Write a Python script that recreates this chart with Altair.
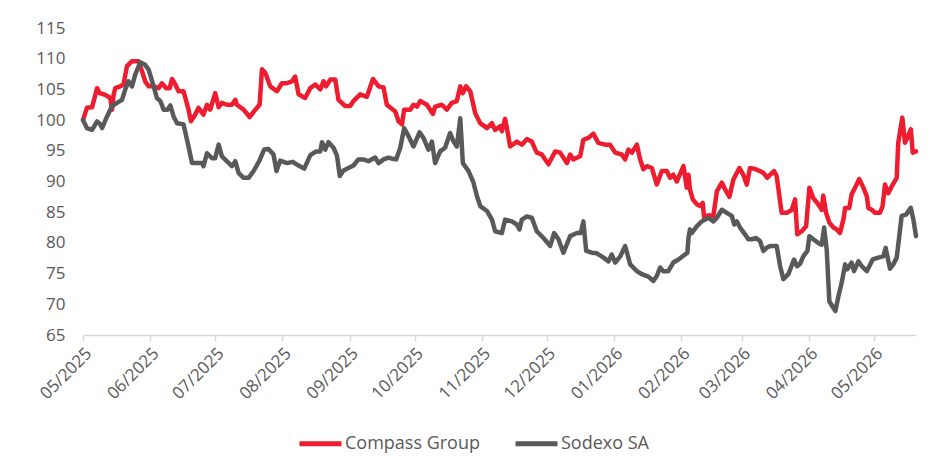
import altair as alt
import pandas as pd

start_date = "2025-05-01"
series_names = ["Compass Group", "Sodexo SA"]
series_colors = ["#ED1C2E", "#58595B"]
y_ticks = [65, 70, 75, 80, 85, 90, 95, 100, 105, 110, 115]

# days since 2025-05-01 and indexed values
compass_days = [
    0, 1.8, 4.2, 6.5, 7.7, 10.3, 12.6, 13.4, 14.1, 14.9,
    17.2, 18.7, 20.3, 22.6, 25.6, 27.2, 28.7, 30.3, 32.6, 34.9,
    36.4, 38.4, 40.0, 41.1, 42.6, 44.1, 46.4, 48.7, 49.8, 51.8,
    53.3, 55.6, 57.2, 58.7, 61.0, 62.6, 64.1, 66.4, 68.7, 70.3,
    71.0, 74.1, 76.9, 79.5, 81.5, 82.6, 84.1, 86.4, 89.5, 91.8,
    94.1, 96.4, 97.9, 99.5, 102.5, 104.9, 107.2, 109.5, 111.0, 112.2,
    114.1, 116.4, 117.9, 121.0, 123.3, 124.8, 127.9, 131.0, 133.8, 136.4,
    138.7, 140.2, 144.1, 145.6, 147.2, 148.2, 151.0, 152.5, 154.1, 155.6,
    158.7, 160.2, 161.5, 162.5, 165.6, 167.9, 170.2, 172.5, 174.1, 175.3,
    176.8, 178.7, 181.0, 183.3, 186.4, 188.7, 190.2, 192.5, 193.3, 194.8,
    196.3, 197.1, 200.2, 202.5, 204.8, 207.1, 209.4, 211.7, 214.8, 217.9,
    220.2, 223.3, 224.8, 226.3, 229.4, 230.9, 233.2, 235.5, 237.8, 240.9,
    243.2, 245.6, 248.6, 250.2, 251.7, 253.3, 255.6, 257.1, 258.6, 260.2,
    262.5, 264.8, 267.1, 269.4, 270.9, 272.4, 274.0, 277.1, 278.6, 279.4,
    280.1, 281.4, 283.2, 284.8, 286.0, 286.6, 288.6, 290.9, 292.5, 294.8,
    296.3, 298.3, 300.1, 301.7, 302.9, 304.7, 306.3, 307.8, 309.7, 312.4,
    314.0, 315.8, 317.1, 318.9, 320.1, 322.4, 324.8, 327.1, 328.6, 329.6,
    331.7, 333.7, 335.2, 337.0, 339.3, 340.9, 341.6, 342.9, 344.4, 346.3,
    347.8, 349.3, 350.9, 351.7, 353.6, 354.7, 356.3, 358.2, 360.1, 361.7,
    362.4, 364.0, 365.5, 367.8, 369.0, 370.1, 371.6, 373.2, 375.5, 376.2,
    378.1, 379.3, 380.4, 382.0, 382.9, 384.4,
]
compass_values = [
    100.0, 102.0, 102.1, 105.2, 104.4, 104.1, 103.6, 101.7, 104.1, 105.2,
    105.5, 105.8, 108.8, 109.6, 109.6, 108.0, 106.3, 105.5, 105.5, 105.2,
    106.0, 105.2, 105.2, 106.7, 105.8, 104.7, 104.7, 101.7, 99.8, 100.9,
    102.0, 100.9, 102.5, 101.7, 104.4, 102.1, 102.8, 102.5, 102.5, 103.3,
    102.5, 101.7, 100.5, 101.7, 102.5, 108.3, 107.7, 105.5, 104.7, 106.0,
    106.0, 106.3, 107.1, 104.2, 103.6, 105.2, 105.8, 105.0, 106.3, 105.5,
    106.6, 106.6, 103.3, 102.3, 102.3, 103.1, 104.2, 103.8, 106.7, 105.5,
    105.3, 102.5, 101.4, 99.8, 99.3, 101.7, 101.7, 102.5, 102.2, 103.1,
    102.5, 101.7, 101.0, 102.2, 102.5, 101.7, 102.8, 103.1, 105.5, 104.4,
    105.5, 104.7, 101.1, 99.5, 98.7, 99.5, 98.4, 99.0, 98.2, 100.2,
    97.4, 95.7, 96.5, 96.0, 96.9, 96.5, 94.7, 94.4, 92.8, 94.9,
    94.7, 93.0, 94.4, 93.6, 94.1, 96.8, 97.1, 97.8, 96.3, 96.0,
    96.0, 94.7, 94.4, 93.6, 95.2, 94.7, 96.0, 93.6, 92.0, 92.5,
    92.2, 89.5, 91.7, 91.7, 90.6, 91.1, 90.0, 92.5, 89.0, 91.1,
    88.7, 87.1, 86.3, 86.0, 86.5, 84.1, 84.5, 84.4, 88.4, 89.8,
    88.7, 87.5, 90.3, 91.4, 92.2, 91.1, 89.5, 92.2, 92.1, 91.7,
    91.4, 90.6, 91.1, 91.7, 90.9, 84.9, 84.9, 85.4, 87.1, 81.4,
    81.9, 82.7, 89.0, 87.3, 86.3, 85.4, 87.7, 84.9, 83.3, 82.5,
    82.2, 81.6, 83.8, 85.7, 85.7, 87.9, 89.0, 90.4, 89.0, 87.6,
    85.7, 85.4, 84.9, 84.9, 86.0, 89.5, 88.1, 89.2, 90.6, 96.3,
    100.4, 96.3, 97.1, 98.5, 94.7, 94.9,
]

sodexo_days = [
    0, 1.8, 4.2, 6.5, 8.0, 8.8, 11.1, 13.4, 15.7, 18.0,
    19.5, 21.0, 22.6, 24.1, 26.4, 28.7, 30.3, 32.6, 34.1, 35.7,
    37.2, 39.0, 40.3, 41.8, 43.4, 46.4, 48.7, 50.3, 52.6, 54.9,
    55.6, 57.2, 59.5, 61.0, 62.6, 64.1, 66.4, 68.7, 70.3, 71.8,
    74.1, 76.4, 78.7, 81.3, 83.6, 85.6, 87.9, 89.3, 91.0, 94.1,
    96.8, 99.5, 102.1, 104.9, 107.6, 109.5, 110.3, 111.8, 113.3, 115.6,
    117.2, 118.5, 120.2, 122.5, 124.8, 127.1, 129.4, 131.7, 134.8, 136.4,
    138.7, 141.0, 142.9, 144.5, 146.4, 148.2, 150.2, 152.5, 155.3, 157.1,
    159.4, 161.0, 162.5, 164.8, 167.1, 169.4, 171.0, 172.5, 174.1, 175.3,
    177.9, 180.2, 181.8, 183.3, 186.4, 188.7, 190.2, 193.3, 194.8, 197.9,
    200.2, 201.4, 202.5, 204.8, 207.1, 209.4, 212.5, 215.6, 217.4, 219.4,
    221.7, 224.8, 227.9, 229.7, 230.9, 232.2, 234.8, 237.1, 240.2, 242.5,
    244.0, 245.6, 247.9, 250.2, 252.5, 255.6, 257.9, 260.9, 263.2, 264.8,
    266.3, 267.8, 270.1, 272.4, 274.8, 277.8, 278.9, 279.4, 280.1, 280.9,
    283.2, 285.5, 287.1, 288.6, 290.9, 292.5, 294.8, 297.1, 299.4, 300.5,
    301.7, 303.2, 305.5, 307.0, 308.6, 310.6, 312.4, 314.0, 315.5, 317.1,
    320.1, 321.7, 323.2, 325.5, 328.1, 329.5, 330.9, 332.4, 334.3, 335.2,
    337.0, 339.3, 340.9, 342.0, 343.2, 344.4, 346.3, 347.2, 348.6, 350.1,
    351.7, 352.7, 354.7, 355.8, 357.8, 359.4, 361.7, 364.4, 367.0, 369.3,
    370.4, 372.4, 373.9, 375.5, 377.8, 379.8, 382.0, 383.2, 384.4,
]
sodexo_values = [
    100.0, 98.7, 98.4, 99.8, 99.3, 98.7, 100.6, 102.3, 102.8, 103.3,
    105.0, 106.3, 105.5, 107.4, 109.4, 109.0, 108.2, 105.5, 103.6, 103.1,
    101.7, 101.7, 102.4, 100.6, 99.5, 99.3, 95.7, 93.0, 93.0, 93.0,
    92.5, 94.6, 93.8, 93.8, 96.0, 94.1, 93.3, 92.5, 93.3, 91.4,
    90.6, 90.6, 91.7, 93.3, 95.2, 95.3, 94.4, 91.7, 93.4, 93.0,
    93.2, 92.6, 92.1, 94.3, 94.9, 94.9, 96.4, 95.2, 96.4, 95.5,
    94.2, 90.9, 91.8, 92.2, 92.6, 93.6, 93.6, 93.3, 93.9, 93.0,
    93.6, 93.9, 93.7, 93.6, 95.5, 98.7, 97.4, 95.7, 98.0, 97.1,
    95.2, 96.5, 93.0, 94.9, 95.5, 97.9, 96.5, 95.7, 100.3, 93.0,
    91.7, 89.8, 87.6, 86.0, 85.2, 83.8, 81.9, 81.6, 83.8, 83.5,
    83.0, 82.2, 83.8, 84.3, 84.1, 81.9, 80.8, 79.5, 81.6, 80.6,
    78.4, 81.1, 81.6, 81.6, 83.5, 78.7, 78.4, 78.3, 77.6, 77.0,
    78.1, 76.8, 77.8, 79.5, 76.5, 75.4, 74.9, 74.5, 73.8, 74.6,
    76.0, 75.4, 75.4, 76.8, 77.3, 78.1, 78.4, 80.8, 82.2, 81.6,
    82.7, 83.5, 83.8, 84.1, 83.5, 84.1, 85.4, 84.9, 84.4, 83.0,
    83.5, 82.5, 81.4, 80.6, 80.6, 80.8, 80.3, 78.7, 79.2, 79.5,
    79.5, 76.2, 74.1, 74.9, 77.3, 76.2, 76.6, 77.8, 78.7, 81.1,
    80.6, 80.0, 79.7, 82.5, 78.9, 70.5, 69.4, 68.9, 71.3, 73.5,
    76.5, 75.7, 76.8, 75.4, 77.0, 76.2, 75.4, 77.3, 77.6, 77.8,
    79.2, 75.8, 76.5, 77.6, 84.4, 84.6, 85.7, 83.8, 81.1,
]

base = pd.Timestamp(start_date)


def frame(days, values, name):
    return pd.DataFrame({
        "date": base + pd.to_timedelta(days, unit="D"),
        "value": values,
        "series": name,
    })


df = pd.concat([
    frame(compass_days, compass_values, series_names[0]),
    frame(sodexo_days, sodexo_values, series_names[1]),
], ignore_index=True)

FONT = "Open Sans"
TXT = "#595959"
GRID = "#D9D9D9"

chart = alt.Chart(df).mark_line(
    strokeWidth=4.5, strokeJoin="round", strokeCap="round"
).encode(
    x=alt.X(
        "date:T",
        scale=alt.Scale(nice=False),
        axis=alt.Axis(
            format="%m/%Y",
            tickCount={"interval": "month", "step": 1},
            labelAngle=-45,
            title=None,
            grid=False,
            domainColor=GRID,
            domainWidth=1.5,
            tickColor=GRID,
            tickSize=6,
            tickWidth=1.5,
            labelFont=FONT,
            labelFontSize=17,
            labelColor=TXT,
            labelPadding=4,
        ),
    ),
    y=alt.Y(
        "value:Q",
        scale=alt.Scale(domain=[65, 115], nice=False, zero=False),
        axis=alt.Axis(
            values=y_ticks,
            title=None,
            grid=False,
            domain=False,
            ticks=False,
            labelPadding=18,
            labelFont=FONT,
            labelFontSize=17,
            labelColor=TXT,
        ),
    ),
    color=alt.Color(
        "series:N",
        scale=alt.Scale(domain=series_names, range=series_colors),
        legend=alt.Legend(
            title=None,
            orient="none",
            legendX=214,
            legendY=392,
            direction="horizontal",
            symbolType="stroke",
            symbolSize=1764,
            symbolStrokeWidth=5,
            labelFont=FONT,
            labelFontSize=18,
            labelColor=TXT,
            labelOffset=1,
            columnPadding=25,
            padding=0,
        ),
    ),
).properties(
    width=833,
    height=307,
    autosize=alt.AutoSizeParams(type="none"),
    padding={"left": 75, "top": 20, "right": 23, "bottom": 120},
).configure_view(stroke=None)

chart.save("out.html", embed_options={"renderer": "svg", "actions": False})
